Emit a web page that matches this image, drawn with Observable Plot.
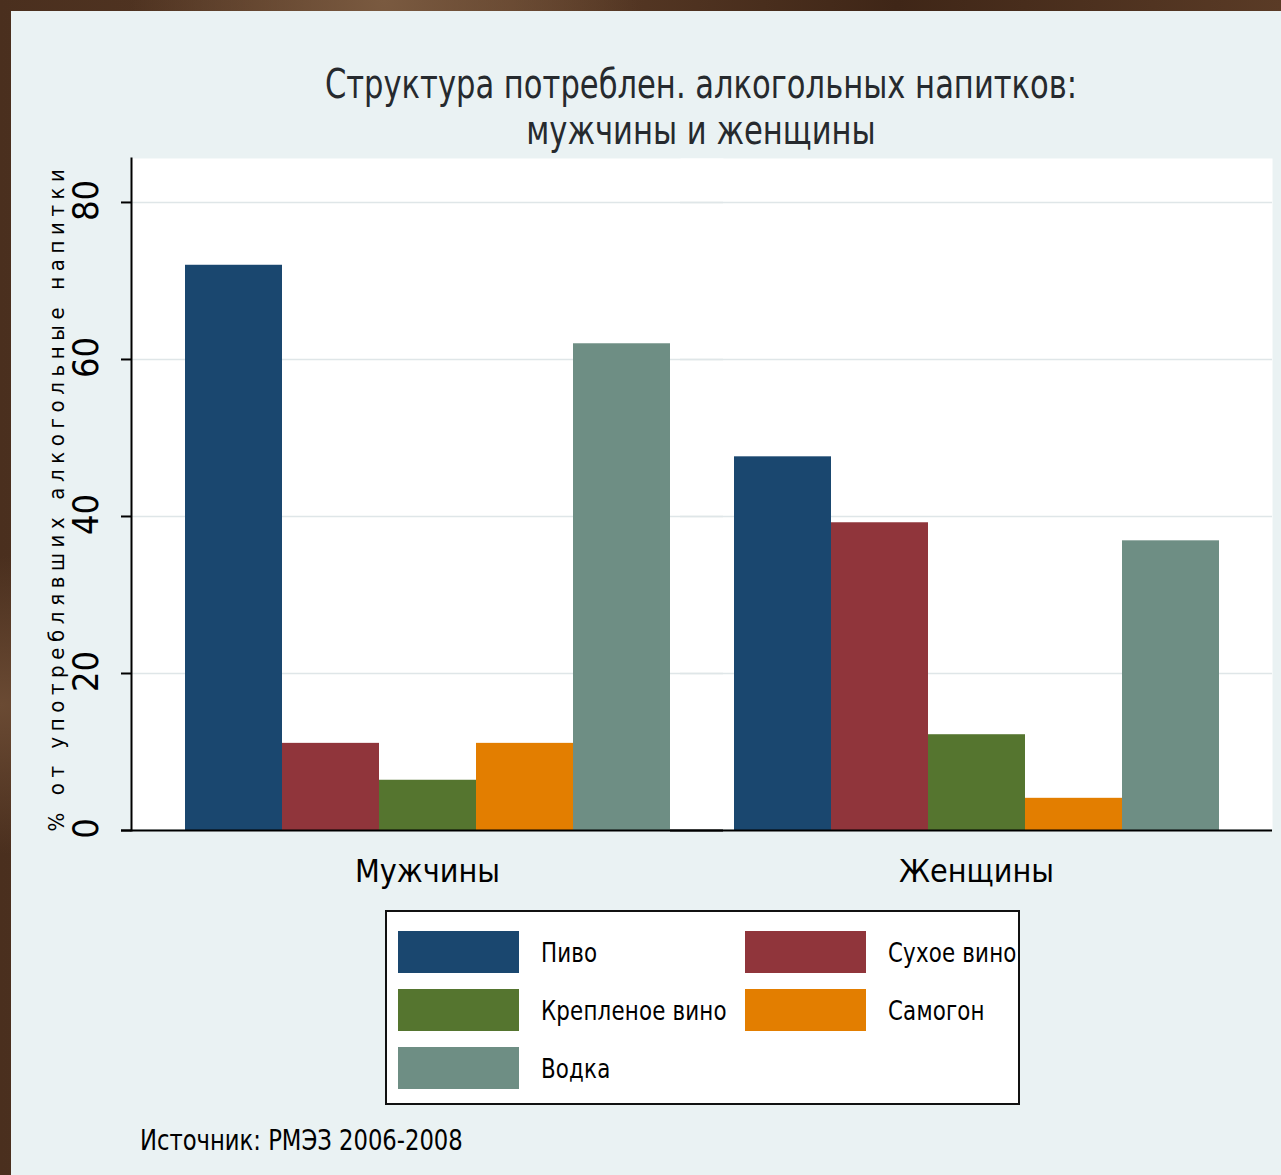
<!DOCTYPE html>
<html>
<head>
<meta charset="utf-8">
<script src="https://cdn.jsdelivr.net/npm/d3@7"></script>
<script src="https://cdn.jsdelivr.net/npm/@observablehq/plot@0.6"></script>
<style>
  html, body { margin: 0; padding: 0; }
  body {
    width: 1281px; height: 1175px; overflow: hidden; position: relative;
    background:
      radial-gradient(ellipse at 30% 0%, #7a5a40 0%, rgba(0,0,0,0) 20%),
      radial-gradient(ellipse at 0% 60%, #6a4a33 0%, rgba(0,0,0,0) 15%),
      linear-gradient(90deg, #4a2f1e, #5c3d28 40%, #3f2617 70%, #5a3b26);
    font-family: "DejaVu Sans Condensed", "DejaVu Sans", sans-serif;
    font-stretch: condensed;
  }
  #panel {
    position: absolute; left: 11px; top: 11px; width: 1270px; height: 1164px;
    background: #eaf2f3;
  }
  #title {
    position: absolute; left: 55px; width: 1270px; top: 50px; text-align: center;
    font-size: 40px; line-height: 46px; color: #262a2e;
    transform: scaleX(0.85); transform-origin: 50% 0;
  }
  #chart { position: absolute; left: 0; top: 139px; }
  #legend {
    position: absolute; left: 374px; top: 899px; width: 631px; height: 191px;
    border: 2px solid #111; background: #fff; overflow: hidden;
  }
  .item { position: absolute; height: 42px; }
  .sw { position: absolute; left: 0; top: 0; width: 121px; height: 42px; }
  .lb { position: absolute; left: 143px; top: 0; line-height: 44px; font-size: 27px; color: #000; white-space: nowrap;
        transform: scaleX(0.88); transform-origin: 0 0; letter-spacing: 0.2px; }
  #caption {
    position: absolute; left: 129px; top: 1112px; font-size: 29px; color: #000;
    transform: scaleX(0.87); transform-origin: 0 0;
  }
</style>
</head>
<body>
<div id="panel">
  <div id="title"></div>
  <div id="chart"></div>
  <div id="legend"></div>
  <div id="caption"></div>
</div>
<script>
const titleLines = ["Структура потреблен. алкогольных напитков:", "мужчины и женщины"];
const groups = ["Мужчины", "Женщины"];
const drinks = ["Пиво", "Сухое вино", "Крепленое вино", "Самогон", "Водка"];
const colors = ["#1a476f", "#90353b", "#55752f", "#e37e00", "#6e8e84"];
const menValues = [72, 11.1, 6.4, 11.1, 62];
const womenValues = [47.6, 39.2, 12.2, 4.1, 36.9];
const yTicks = [0, 20, 40, 60, 80];
const yLabel = "% от употреблявших алкогольные напитки";
const caption = "Источник: РМЭЗ 2006-2008";

const rows = [];
drinks.forEach((d, i) => rows.push({group: groups[0], drink: d, value: menValues[i]}));
drinks.forEach((d, i) => rows.push({group: groups[1], drink: d, value: womenValues[i]}));

document.getElementById("title").innerHTML = titleLines.join("<br>");
document.getElementById("caption").textContent = caption;

const font = "'DejaVu Sans Condensed', 'DejaVu Sans', sans-serif";
const firstFacet = () => groups[0];
const outer = 53;

const chart = Plot.plot({
  width: 1270,
  height: 755,
  marginLeft: 120,
  marginRight: 8,
  marginTop: 8,
  marginBottom: 75,
  style: {background: "transparent", fontFamily: font, color: "#000", fontStretch: "condensed"},
  fx: {domain: groups, paddingInner: 0.1145, paddingOuter: 0.0964, label: null},
  x: {domain: drinks, padding: 0, axis: null},
  y: {domain: [0, 85.6], axis: null},
  color: {domain: drinks, range: colors},
  marks: [
    Plot.frame({fill: "white", stroke: "none", insetLeft: -outer, insetRight: -outer, insetBottom: 1.5}),
    Plot.ruleY(yTicks.filter(d => d > 0), {stroke: "#dfe6e8", strokeWidth: 1.5, insetLeft: -outer, insetRight: -outer}),
    Plot.barY(rows, {fx: "group", x: "drink", y: "value", fill: "drink", inset: 0}),
    Plot.ruleY([0], {stroke: "#000", strokeWidth: 2, insetLeft: -outer - 10, insetRight: -outer}),
    Plot.frame({fx: firstFacet, anchor: "left", stroke: "#000", strokeWidth: 2, insetLeft: -outer}),
    Plot.axisY({ticks: yTicks, tickSize: 10, dx: -outer, stroke: "#000", strokeWidth: 2, fill: "none", label: null}),
    Plot.text(yTicks, {fx: firstFacet, y: d => d, text: d => String(d), frameAnchor: "left", textAnchor: "middle", dx: -outer - 45, dy: -2, rotate: -90, fontSize: 36, fill: "#000"}),
    Plot.text([yLabel], {fx: firstFacet, text: d => d, frameAnchor: "left", textAnchor: "middle", dx: -outer - 75, dy: 3, rotate: -90, fontSize: 22, fill: "#000"}),
    Plot.axisFx({anchor: "bottom", tickSize: 0, tickPadding: 29, fontSize: 32, label: null, fill: "#000"})
  ]
});
document.getElementById("chart").appendChild(chart);
chart.querySelectorAll("text").forEach(t => {
  if (t.textContent === yLabel) t.style.letterSpacing = "5.6px";
});

const legend = document.getElementById("legend");
drinks.forEach((d, i) => {
  const col = i % 2, row = Math.floor(i / 2);
  const item = document.createElement("div");
  item.className = "item";
  item.style.left = (11 + col * 347) + "px";
  item.style.top = (19 + row * 58) + "px";
  const sw = document.createElement("div");
  sw.className = "sw";
  sw.style.background = colors[i];
  const lb = document.createElement("div");
  lb.className = "lb";
  lb.textContent = d;
  item.appendChild(sw);
  item.appendChild(lb);
  legend.appendChild(item);
});
</script>
</body>
</html>
